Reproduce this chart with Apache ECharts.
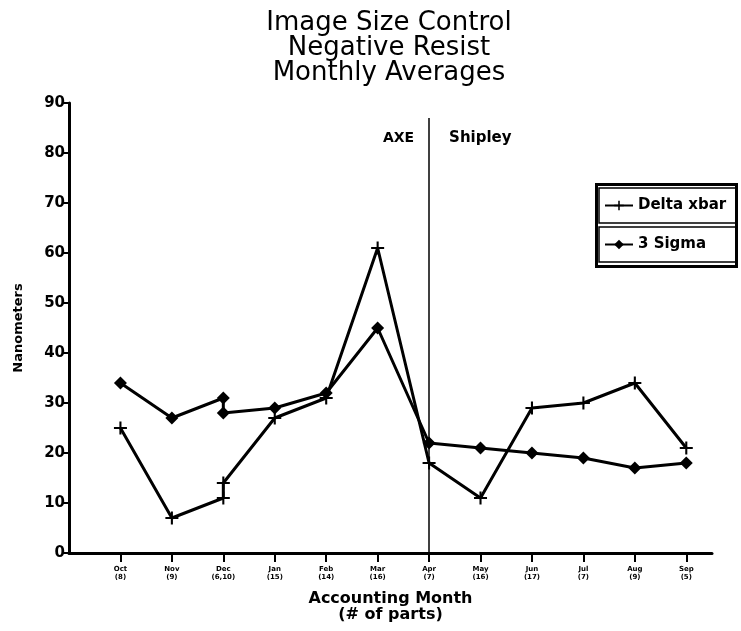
<!DOCTYPE html>
<html><head><meta charset="utf-8">
<script src="https://cdn.jsdelivr.net/npm/echarts@6/dist/echarts.min.js"></script>
<style>html,body{margin:0;padding:0;background:#fff}#c{width:741px;height:631px}</style>
</head><body><div id="c"></div>
<script>
// --- data ---
const monthLabels = ['Oct\n(8)','Nov\n(9)','Dec\n(6,10)','Jan\n(15)','Feb\n(14)','Mar\n(16)','Apr\n(7)','May\n(16)','Jun\n(17)','Jul\n(7)','Aug\n(9)','Sep\n(5)'];
const monthIndex = [0,1,2,3,4,5,6,7,8,9,10,11];
const deltaPos  = [0,1,2,2,3,4,5,6,7,8,9,10,11];
const deltaXbar = [25,7,11,14,27,31,61,18,11,29,30,34,21];
const sigmaPos  = [0,1,2,2,3,4,5,6,7,8,9,10,11];
const sigma3    = [34,27,31,28,29,32,45,22,21,20,19,17,18];
const switchIndex = 6;
const switchTop = 87;
const annotY = 83;
const regionNames = ['AXE','Shipley'];

const plusPath = 'path://M4.2,0H5.8V4.2H10V5.8H5.8V10H4.2V5.8H0V4.2H4.2Z';
const F = '"DejaVu Sans", sans-serif';

const chart = echarts.init(document.getElementById('c'), null, {renderer:'canvas'});
const legendCommon = {
  orient:'horizontal', left:599, itemWidth:28, itemHeight:12, itemGap:0,
  borderColor:'#000', borderWidth:1.5, borderRadius:0,
  textStyle:{fontFamily:F, fontSize:15, fontWeight:'bold', color:'#000'}
};
chart.setOption({
  animation:false,
  backgroundColor:'#fff',
  title:{
    text:'Image Size Control\nNegative Resist\nMonthly Averages',
    left:384, top:6, textAlign:'center',
    textStyle:{fontFamily:F, fontSize:26, fontWeight:'normal', color:'#000', lineHeight:25}
  },
  legend:[
    Object.assign({}, legendCommon, {top:188, padding:[10,10,10,5], data:['Delta xbar']}),
    Object.assign({}, legendCommon, {top:227, padding:[10,30,10,5], data:['3 Sigma']})
  ],
  graphic:[{type:'rect', shape:{x:596.5, y:184.5, width:140, height:82}, style:{fill:null, stroke:'#000', lineWidth:3}, silent:true, z:100}],
  grid:{left:69, right:29, top:103, bottom:78, containLabel:false, outerBoundsMode:'none'},
  xAxis:{
    type:'value', min:-1, max:11.5,
    axisLine:{show:true, onZero:false, lineStyle:{color:'#000', width:3}},
    axisTick:{show:true, length:9, lineStyle:{color:'#000', width:2}, customValues:monthIndex},
    axisLabel:{show:true, customValues:monthIndex, formatter:v=>monthLabels[Math.round(v)]||'', fontFamily:F, fontSize:7, fontWeight:'bold', lineHeight:8, color:'#000', margin:12},
    splitLine:{show:false},
    name:'Accounting Month\n(# of parts)', nameLocation:'middle', nameGap:38,
    nameTextStyle:{fontFamily:F, fontSize:16, fontWeight:'bold', color:'#000', lineHeight:16}
  },
  yAxis:{
    type:'value', min:0, max:90, interval:10,
    axisLine:{show:true, onZero:false, lineStyle:{color:'#000', width:3}},
    axisTick:{show:true, length:6, lineStyle:{color:'#000', width:2}},
    axisLabel:{fontFamily:F, fontSize:15, fontWeight:'bold', color:'#000', margin:4},
    splitLine:{show:false},
    name:'Nanometers', nameLocation:'middle', nameRotate:90, nameGap:44,
    nameTextStyle:{fontFamily:F, fontSize:13, fontWeight:'bold', color:'#000'}
  },
  series:[
    {
      name:'Delta xbar', type:'line',
      data:deltaPos.map((p,i)=>[p, deltaXbar[i]]),
      symbol:plusPath, symbolSize:13,
      lineStyle:{color:'#000', width:3}, itemStyle:{color:'#000'},
      markLine:{
        silent:true, symbol:'none', label:{show:false},
        lineStyle:{color:'#000', width:1.5, type:'solid'},
        data:[[{coord:[switchIndex,0]},{coord:[switchIndex,switchTop]}]]
      },
      markPoint:{
        silent:true,
        data:[
          {coord:[switchIndex, annotY], symbolSize:0, label:{show:true, formatter:regionNames[0], position:'left', distance:15, fontFamily:F, fontSize:14, fontWeight:'bold', color:'#000'}},
          {coord:[switchIndex, annotY], symbolSize:0, label:{show:true, formatter:regionNames[1], position:'right', distance:20, fontFamily:F, fontSize:15, fontWeight:'bold', color:'#000'}}
        ]
      }
    },
    {
      name:'3 Sigma', type:'line',
      data:sigmaPos.map((p,i)=>[p, sigma3[i]]),
      symbol:'diamond', symbolSize:13,
      lineStyle:{color:'#000', width:3}, itemStyle:{color:'#000'}
    }
  ]
});
</script></body></html>
